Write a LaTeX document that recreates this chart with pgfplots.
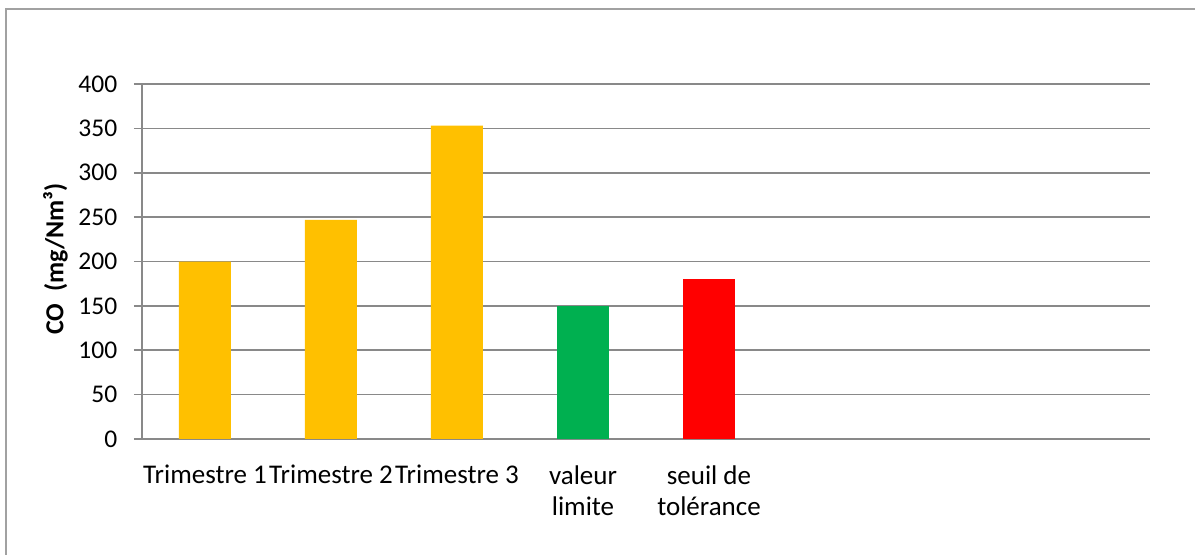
\documentclass[border=0pt]{standalone}
\usepackage{pgfplots}
\pgfplotsset{compat=1.18}
\usepackage{fontspec}
\setmainfont{Carlito}
\definecolor{cyel}{HTML}{FFC000}
\definecolor{cgreen}{HTML}{00B050}
\definecolor{cred}{HTML}{FF0000}
\definecolor{cgrid}{HTML}{898989}
\begin{document}
\begin{tikzpicture}
\useasboundingbox (-71bp,-58bp) rectangle (526.5bp,219.5bp);
\draw[cgrid!80, line width=1bp] (-67.75bp,-58bp) -- (-67.75bp,215bp) -- (526.5bp,215bp);
\begin{axis}[
  at={(0,0)}, anchor=south west,
  scale only axis, width=504bp, height=177.5bp,
  ybar, bar width=26bp,
  xmin=-0.5, xmax=7.5, ymin=0, ymax=400,
  ytick={0,50,...,400},
  xtick={0,1,2,3,4},
  xticklabels={Trimestre 1,Trimestre 2,Trimestre 3,{valeur\\limite},{seuil de\\tolérance}},
  xticklabel style={align=center, font=\fontsize{13.5bp}{15.5bp}\selectfont, inner sep=0pt, yshift=-9bp},
  yticklabel style={font=\fontsize{12.75bp}{14bp}\selectfont, inner sep=0pt, xshift=-8.2bp},
  /pgf/number format/assume math mode=true,
  axis x line*=bottom, axis y line*=left,
  x axis line style={draw=cgrid, line width=0.8bp, -},
  y axis line style={draw=cgrid, line width=0.8bp, -},
  major x tick style={draw=none},
  major y tick style={draw=cgrid, line width=0.8bp},
  tick align=outside, major tick length=4bp,
  ymajorgrids, grid style={draw=cgrid, line width=0.8bp},
  ylabel={\fontsize{13bp}{15bp}\selectfont\bfseries CO\ \ (mg/Nm³)},
  ylabel style={at={(axis description cs:-0.0858,0.507)}, anchor=center},
]
\addplot[fill=cyel, draw=none, bar shift=0pt] coordinates {(0,200) (1,247) (2,353)};
\addplot[fill=cgreen, draw=none, bar shift=0pt] coordinates {(3,150)};
\addplot[fill=cred, draw=none, bar shift=0pt] coordinates {(4,180)};
\end{axis}
\end{tikzpicture}
\end{document}
